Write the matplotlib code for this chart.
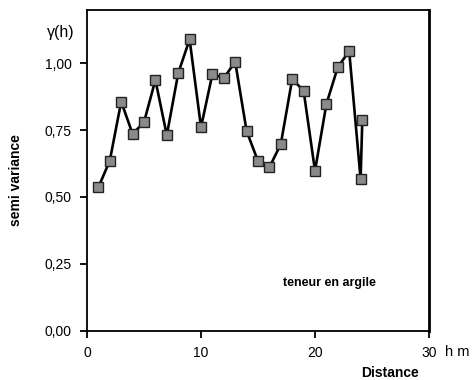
import matplotlib
matplotlib.use("Agg")
import matplotlib.pyplot as plt
from matplotlib.ticker import FixedLocator, FuncFormatter

plt.rcParams['font.family'] = ['Liberation Sans', 'DejaVu Sans']

distance = [1, 2, 3, 4, 5, 6, 7, 8, 9, 10, 11, 12, 13, 14, 15, 16, 17, 18, 19, 20, 21, 22, 23, 24, 24.15]
semivar = [0.536, 0.636, 0.857, 0.736, 0.78, 0.938, 0.731, 0.963, 1.09, 0.761,
           0.96, 0.945, 1.006, 0.747, 0.634, 0.611, 0.698, 0.941, 0.898, 0.598,
           0.848, 0.986, 1.046, 0.567, 0.787]
x_ticks = [0, 10, 20, 30]
y_ticks = [0.0, 0.25, 0.5, 0.75, 1.0]

fig = plt.figure(figsize=(4.72, 3.8), dpi=100)
ax = fig.add_axes([87/472, 1 - 330.5/380, (429-87)/472, (330.5-10)/380])

ax.plot(distance, semivar, color='black', lw=1.9, marker='s', ms=6.5,
        mfc='#8a8a8a', mec='#222222', mew=1.0, zorder=3, clip_on=False)

ax.set_xlim(0, 30)
ax.set_ylim(0, 1.2)
ax.xaxis.set_major_locator(FixedLocator(x_ticks))
ax.yaxis.set_major_locator(FixedLocator(y_ticks))
ax.yaxis.set_major_formatter(FuncFormatter(lambda v, p: f"{v:.2f}".replace('.', ',')))
ax.xaxis.set_major_formatter(FuncFormatter(lambda v, p: f"{v:.0f}"))
ax.tick_params(axis='both', direction='out', length=5, width=1.3, labelsize=10, pad=6)
for s in ax.spines.values():
    s.set_linewidth(1.3)
ax.spines['right'].set_linewidth(2.0)

fig.text(61/472, 1 - 33/380, 'γ(h)', fontsize=11.5, ha='center', va='center')
fig.text(16/472, 1 - 180/380, 'semi variance', fontsize=10, fontweight='bold',
         rotation=90, ha='center', va='center')
fig.text(457/472, 1 - 352/380, 'h m', fontsize=10.5, ha='center', va='center')
fig.text(390/472, 1 - 373/380, 'Distance', fontsize=10, fontweight='bold',
         ha='center', va='center')
fig.text(329/472, 1 - 283/380, 'teneur en argile', fontsize=9, fontweight='bold',
         ha='center', va='center')

fig.savefig('out.png', dpi=100)
